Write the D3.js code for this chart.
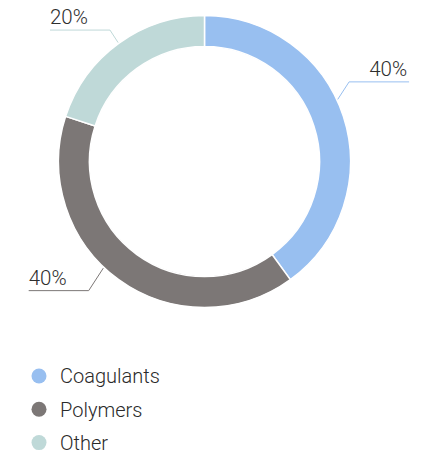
<!DOCTYPE html>
<html lang="en">
<head>
  <meta charset="utf-8">
  <title>Donut</title>
  <style>
  body { margin: 0; background: #fff; }
  .lbl { font: 300 20.5px Roboto, sans-serif; fill: #2e2e2e; }
  .leg { font: 300 20px Roboto, sans-serif; fill: #2a2a2a; }
  </style>
  <script src="https://cdn.jsdelivr.net/npm/d3@7"></script>
</head>
<body>
<svg width="428" height="454"></svg>
<script>
// data
var categories = ["Coagulants", "Polymers", "Other"];
var values = [40, 40, 20];
var colors = ["#98bff0", "#7c7776", "#bfd9d8"];

// label tick tweaks (degrees off slice middle, vertical rise of tick)
var tickShift = [-7, 7.5, 0];
var tickRise = [17.5, 22.5, 12.5];

var svg = d3.select("svg"),
    cx = 204.5, cy = 161.5,
    outer = 146, inner = 115;

var g = svg.append("g").attr("transform", "translate(" + cx + "," + cy + ")");

var pie = d3.pie().sort(null).value(function(d) { return d; });
var arc = d3.arc().innerRadius(inner).outerRadius(outer);
var arcs = pie(values);

g.selectAll("path.slice")
  .data(arcs)
  .enter().append("path")
    .attr("class", "slice")
    .attr("d", arc)
    .attr("fill", function(d, i) { return colors[i]; })
    .attr("stroke", "#fff")
    .attr("stroke-width", 1.5);

// leader lines + labels
var deg = Math.PI / 180;
arcs.forEach(function(d, i) {
  var a = (d.startAngle + d.endAngle) / 2 + tickShift[i] * deg;
  var sx = Math.sin(a) * (outer + 1), sy = -Math.cos(a) * (outer + 1);
  var right = Math.sin(a) > 0;
  var dir = right ? 1 : -1;
  var up = Math.cos(a) > 0 ? -1 : 1;
  var ex = sx + dir * tickRise[i] * 0.65,
      ey = sy + up * tickRise[i];
  var hx = ex + dir * 60;

  g.append("path")
    .attr("d", "M" + sx + "," + sy + "L" + ex + "," + ey + "L" + hx + "," + ey)
    .attr("fill", "none")
    .attr("stroke", colors[i])
    .attr("stroke-width", 1);

  g.append("text")
    .attr("class", "lbl")
    .attr("x", right ? hx - 2 : hx)
    .attr("y", ey - 6)
    .attr("text-anchor", right ? "end" : "start")
    .text(Math.round(d.value / d3.sum(values) * 100) + "%");
});

// legend
var legend = svg.append("g").attr("transform", "translate(39,376)");
var item = legend.selectAll("g")
  .data(categories)
  .enter().append("g")
    .attr("transform", function(d, i) { return "translate(0," + (i * 33.3) + ")"; });

item.append("circle")
  .attr("r", 7.5)
  .attr("fill", function(d, i) { return colors[i]; });

item.append("text")
  .attr("class", "leg")
  .attr("x", 21)
  .attr("dy", "0.36em")
  .text(function(d) { return d; });
</script>
</body>
</html>
